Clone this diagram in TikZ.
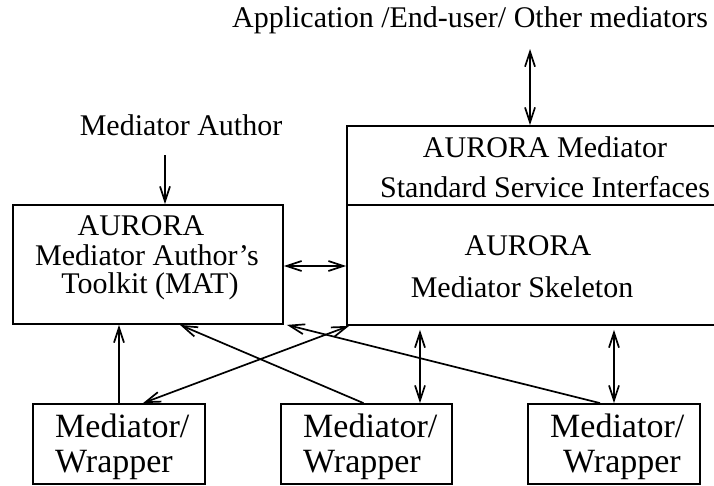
\documentclass[tikz,border=0pt]{standalone}
\usepackage{fontspec}
\setmainfont{Liberation Serif}
\usetikzlibrary{arrows.meta}
\begin{document}
\begin{tikzpicture}[x=1pt,y=-1pt,
  box/.style={draw, line width=1.8pt, inner sep=0pt},
  txt/.style={inner sep=0pt, anchor=base, font=\fontsize{30}{36}\selectfont},
  wtxt/.style={inner sep=0pt, anchor=base west, font=\fontsize{34}{40}\selectfont},
  conn/.style={line width=1.7pt},
  >={Straight Barb[length=15pt,width=10pt]}]
\useasboundingbox (0,0) rectangle (714,485);

% boxes (the service/skeleton block runs off the right edge)
\node[box, minimum width=270pt, minimum height=119pt] (mat) at (148,264.5) {};
\node[box, minimum width=370pt, minimum height=79pt] (sis) at (532,165.5) {};
\node[box, minimum width=370pt, minimum height=120pt] (skel) at (532,265) {};
\node[box, minimum width=172pt, minimum height=80pt] (m1) at (119,444) {};
\node[box, minimum width=171pt, minimum height=80pt] (m2) at (366.5,444) {};
\node[box, minimum width=172pt, minimum height=80pt] (m3) at (614,444) {};

% labels
\node[txt] (app) at (470,27) {Application /End-user/ Other mediators};
\node[txt] (author) at (181,135) {Mediator Author};
\node[txt] (mat1) at (141,235) {AURORA};
\node[txt] (mat2) at (147,265) {Mediator Author's};
\node[txt] (mat3) at (150,293) {Toolkit (MAT)};
\node[txt] (sis1) at (545,157) {AURORA Mediator};
\node[txt] (sis2) at (545,197) {Standard Service Interfaces};
\node[txt] (skel1) at (528,255) {AURORA};
\node[txt] (skel2) at (522,297) {Mediator Skeleton};
\node[wtxt] (m1a) at (55,437) {Mediator/};
\node[wtxt] (m1b) at (55,472) {Wrapper};
\node[wtxt] (m2a) at (303,437) {Mediator/};
\node[wtxt] (m2b) at (303,472) {Wrapper};
\node[wtxt] (m3a) at (550,437) {Mediator/};
\node[wtxt] (m3b) at (563,472) {Wrapper};

% connectors
\coordinate (apptip) at (530,49);
\coordinate (authtip) at (165,155);
\draw[conn,<->] (apptip) -- (apptip |- sis.north);
\draw[conn,->] (authtip) -- (authtip |- mat.north);
\draw[conn,<->] ([yshift=-1.5pt]mat.east) -- ([yshift=-1.5pt]mat.east -| skel.west);
\draw[conn,->] (m1.north) -- (m1.north |- mat.south);
\draw[conn,<->] ([xshift=24pt]m1.north) -- ([xshift=3pt]skel.south west);
\draw[conn,->] ([xshift=-3pt]m2.north) -- ([xshift=32pt]mat.south);
\draw[conn,->] ([xshift=-14pt]m3.north) -- ([xshift=3pt]mat.south east);
\draw[conn,<->,shorten >=4pt] ([xshift=53.5pt]m2.north) -- ([xshift=53.5pt]m2.north |- skel.south);
\draw[conn,<->,shorten >=4pt] (m3.north) -- (m3.north |- skel.south);
\end{tikzpicture}
\end{document}
